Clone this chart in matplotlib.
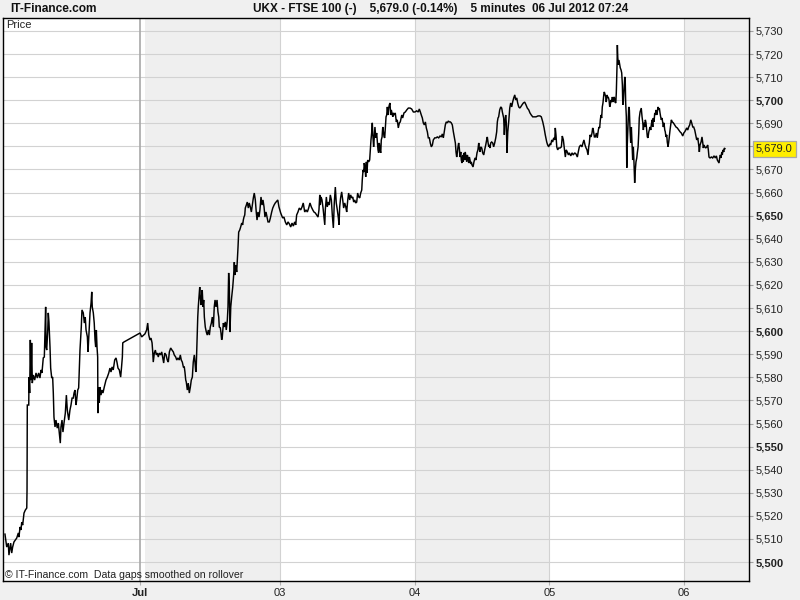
import matplotlib
matplotlib.use('Agg')
import matplotlib.pyplot as plt
import matplotlib.transforms as mtransforms

# ---- data: 5-minute bar index (0 = 02 Jul session open, 102 bars per day) and FTSE 100 price
bars = [
    -106.3, -105.0, -103.8, -103.3, -102.0, -101.2, -100.5, -99.5, -97.4, -96.2,
    -95.7, -94.9, -94.2, -93.6, -92.9, -91.9, -90.9, -89.8, -89.6, -89.4,
    -88.3, -88.1, -87.6, -87.1, -86.6, -86.1, -85.6, -84.9, -83.8, -82.8,
    -81.8, -80.8, -79.8, -79.0, -78.3, -77.3, -76.5, -76.0, -75.5, -75.2,
    -74.7, -73.9, -73.5, -73.0, -72.2, -71.7, -70.9, -70.2, -69.7, -69.2,
    -68.4, -67.7, -66.7, -65.9, -65.2, -64.4, -63.9, -63.1, -62.4, -61.6,
    -60.6, -59.8, -59.1, -58.0, -57.1, -56.3, -55.5, -54.6, -54.0, -53.3,
    -52.5, -52.0, -51.2, -50.5, -49.5, -48.5, -48.0, -47.0, -46.2, -45.5,
    -44.9, -43.9, -43.4, -42.7, -41.9, -41.1, -40.6, -40.2, -39.4, -38.7,
    -38.1, -37.6, -37.1, -36.6, -36.1, -35.9, -35.3, -34.9, -34.3, -33.6,
    -32.8, -32.1, -31.1, -29.8, -28.8, -27.7, -26.8, -26.0, -25.2, -24.3,
    -23.2, -22.2, -21.5, -20.7, -19.7, -18.7, -18.2, -17.4, -17.1, -16.2,
    -4.0, -2.8, -0.3, 1.0, 1.8, 2.6, 3.5, 4.3, 5.1, 5.6,
    6.0, 6.8, 7.6, 8.3, 9.1, 9.8, 10.6, 11.6, 12.4, 13.2,
    13.9, 14.7, 15.7, 16.6, 17.4, 18.2, 19.2, 20.2, 21.2, 21.9,
    23.0, 23.8, 24.7, 25.7, 26.5, 27.2, 28.0, 28.8, 29.5, 30.0,
    30.6, 31.0, 31.8, 32.5, 33.3, 34.1, 34.8, 35.6, 36.3, 37.1,
    37.6, 38.2, 38.6, 39.1, 39.7, 40.1, 40.6, 41.2, 41.6, 42.2,
    42.7, 43.1, 43.7, 44.2, 44.7, 45.4, 46.2, 46.9, 47.7, 48.5,
    49.2, 50.0, 50.7, 51.5, 52.2, 52.8, 53.5, 54.3, 55.0, 55.6,
    56.0, 56.8, 57.3, 57.8, 58.3, 59.1, 59.8, 60.6, 61.3, 62.1,
    62.6, 63.1, 63.6, 64.1, 64.7, 65.4, 66.2, 66.9, 67.4, 67.9,
    68.4, 69.2, 69.7, 70.2, 70.7, 71.5, 72.2, 73.0, 73.7, 74.2,
    74.7, 75.3, 75.7, 76.5, 77.2, 78.0, 78.7, 79.5, 80.3, 81.0,
    81.8, 82.5, 83.3, 84.0, 84.6, 85.3, 86.1, 86.8, 87.6, 88.4,
    89.1, 89.9, 90.6, 91.4, 92.2, 92.9, 93.9, 94.7,
    95.7, 96.5, 97.5, 98.4, 100.3, 101.2, 102.5, 104.0, 105.0, 106.0,
    107.1, 108.1, 109.1, 110.1, 111.1, 112.1, 113.1, 113.9, 114.6, 115.6,
    116.6, 117.7, 118.7, 119.6, 120.7, 121.7, 122.7, 123.7, 124.7, 125.7,
    126.8, 127.7, 128.7, 129.8, 130.8, 131.5, 132.1, 132.5, 133.1, 133.8,
    134.6, 135.3, 135.9, 136.3, 137.1, 137.8, 138.6, 139.3, 140.1, 140.9,
    141.6, 142.4, 143.1, 143.9, 144.6, 145.4, 146.2, 146.7, 147.2, 147.9,
    148.7, 149.5, 150.2, 151.0, 151.8, 152.5, 153.3, 154.0, 154.8, 155.5,
    156.3, 157.1, 157.8, 158.6, 159.3, 160.1, 160.8, 161.6, 162.4, 163.1,
    163.9, 164.3, 164.9, 165.4, 165.8, 166.4, 166.9, 167.4, 167.9, 168.4,
    169.2, 169.9, 170.4, 170.9, 171.4, 171.9, 172.4, 172.9, 173.4, 173.9,
    174.5, 175.2, 175.7, 176.2, 176.7, 177.2, 177.7, 178.3, 178.7, 179.3,
    179.8, 180.2, 180.8, 181.3, 181.8, 182.3, 182.8, 183.3, 183.8, 184.3,
    184.8, 185.3, 185.8, 186.3, 186.8, 187.4, 187.8, 188.6, 189.3, 190.1,
    190.8, 191.6, 192.4,
    193.1, 194.2, 194.9, 195.9, 196.9, 198.0, 199.2, 200.5, 201.7, 203.0,
    204.2, 205.5, 206.7, 207.5, 208.3, 209.0, 209.8, 210.5, 211.3, 212.1,
    212.8, 213.6, 214.3, 215.1, 215.8, 216.6, 217.4, 218.1, 219.2, 220.2,
    221.1, 222.2, 223.2, 224.2, 224.9, 225.7, 226.4, 227.2, 227.9, 228.7,
    229.5, 230.2, 231.0, 231.7, 232.5, 233.3, 234.0, 234.8, 235.3, 235.8,
    236.3, 236.8, 237.3, 237.8, 238.3, 238.9, 239.3, 239.8, 240.4, 240.8,
    241.4, 241.9, 242.3, 242.9, 243.4, 243.9, 244.4, 244.9, 245.4, 245.9,
    246.4, 246.9, 247.4, 248.2, 248.9, 249.7, 250.4, 251.2, 251.9, 252.5,
    252.9, 253.5, 254.0, 254.8, 255.5, 256.3, 257.0, 257.8, 258.5, 259.0,
    259.5, 260.1, 260.5, 261.0, 261.6, 262.3, 263.1, 263.8, 264.6, 265.4,
    266.1, 266.6, 267.1, 267.6, 268.4, 269.2, 269.9, 270.4, 270.9, 271.4,
    271.9, 272.4, 272.9, 273.4, 273.9, 274.5, 275.2, 276.0, 276.7, 277.5,
    278.2, 279.0, 279.8, 280.5, 281.3, 282.0, 282.8, 283.6, 284.3, 285.3,
    286.3, 287.3, 288.3, 289.3, 290.4, 291.3, 292.3, 293.4, 294.4, 295.9,
    297.4, 298.9, 299.9,
    301.0, 302.0, 302.9, 304.0, 304.7, 305.5, 306.3, 307.0, 307.8, 308.5,
    309.3, 310.1, 310.5, 311.0, 311.6, 312.3, 313.1, 314.1, 315.1, 315.8,
    316.6, 317.3, 318.1, 318.8, 319.6, 320.4, 321.1, 322.2, 323.2, 324.1,
    325.2, 326.2, 327.2, 327.9, 328.7, 329.7, 330.7, 331.5, 332.2, 333.0,
    333.8, 334.5, 335.3, 335.8, 336.3, 336.8, 337.6, 338.3, 338.8, 339.3,
    340.1, 340.8, 341.6, 342.3, 343.1, 343.6, 344.1, 344.6, 345.1, 345.6,
    346.1, 346.6, 347.2, 347.6, 348.2, 348.7, 349.1, 349.7, 350.2, 350.6,
    351.2, 351.7, 352.1, 352.7, 353.2, 353.7, 354.2, 354.7, 355.2, 355.7,
    356.3, 356.7, 357.3, 357.5, 357.8, 358.2, 358.7, 359.3, 359.7, 360.3,
    360.8, 361.3, 361.6, 362.0, 362.5, 363.1, 363.5, 363.8, 364.3, 364.6,
    365.0, 365.6, 366.1, 366.6, 367.1, 367.6, 368.1, 368.6, 369.1, 369.6,
    370.1, 370.6, 371.1, 371.6, 372.2, 372.6, 373.2, 373.7, 374.1, 374.7,
    375.2, 375.6, 376.2, 376.7, 377.2, 377.7, 378.2, 378.7, 379.2, 379.7,
    380.2, 380.7, 381.3, 381.7, 382.2, 382.8, 383.2, 383.8, 384.3, 384.7,
    385.3, 385.8, 386.3, 386.8, 387.3, 387.8, 388.3, 388.8, 389.3, 389.8,
    390.3, 390.8, 391.3, 391.9, 392.3, 392.8, 393.4, 393.8, 394.3, 394.9,
    395.3, 395.9, 396.4, 396.8, 397.4, 397.9, 398.4, 399.1, 399.9, 400.9,
    401.9, 402.9, 404.0, 405.0, 405.9, 407.0, 407.8, 408.5, 409.3, 410.0,
    410.8, 411.5, 412.3, 413.1, 413.8, 414.6, 415.3, 416.1, 416.8, 417.6,
    418.4, 419.1, 419.6, 420.1, 420.9, 421.6, 422.2, 422.6, 423.1, 423.7,
    424.4, 425.2, 425.9, 426.4, 426.9, 427.7, 428.7, 429.7, 430.7, 431.7,
    432.5, 433.2, 434.0, 434.5, 435.0, 435.5, 436.0, 436.6, 437.0, 437.5,
    438.1, 438.5, 439.0,
]

prices = [
    5512.1, 5506.5, 5508.2, 5503.0, 5508.2, 5503.9, 5506.5, 5508.7, 5510.4, 5512.6,
    5510.8, 5515.2, 5513.9, 5517.3, 5516.0, 5521.2, 5522.5, 5523.4, 5531.2, 5568.0,
    5568.0, 5580.1, 5573.2, 5596.2, 5578.8, 5594.9, 5577.5, 5581.0, 5578.8, 5581.9,
    5579.7, 5581.9, 5579.7, 5583.2, 5581.9, 5588.4, 5588.8, 5600.5, 5610.5, 5593.1,
    5591.8, 5600.5, 5607.9, 5604.0, 5593.1, 5584.0, 5579.7, 5580.1, 5573.2, 5562.8,
    5558.5, 5561.5, 5558.0, 5560.2, 5555.9, 5551.5, 5558.5, 5561.5, 5556.3, 5560.2,
    5564.5, 5572.3, 5565.8, 5561.5, 5565.8, 5568.0, 5571.0, 5571.0, 5573.2, 5574.5,
    5568.0, 5570.2, 5574.5, 5575.4, 5591.8, 5601.8, 5609.2, 5607.9, 5603.5, 5606.1,
    5600.5, 5597.5, 5591.0, 5599.2, 5607.9, 5612.2, 5617.0, 5610.5, 5607.9, 5603.5,
    5596.2, 5593.1, 5600.5, 5593.1, 5588.8, 5564.5, 5575.8, 5568.9, 5575.8, 5572.3,
    5574.5, 5573.2, 5575.8, 5578.8, 5580.1, 5581.9, 5584.0, 5582.3, 5584.5, 5583.2,
    5587.5, 5588.4, 5586.6, 5584.0, 5583.2, 5580.1, 5583.2, 5588.8, 5594.9, 5595.3,
    5599.2, 5597.5, 5598.8, 5600.5, 5603.5, 5598.3, 5596.2, 5597.0, 5594.9, 5591.0,
    5586.6, 5590.5, 5591.8, 5589.7, 5590.5, 5588.8, 5590.5, 5589.7, 5591.0, 5588.4,
    5586.2, 5590.5, 5589.7, 5587.5, 5586.6, 5591.0, 5592.7, 5591.8, 5591.0, 5589.7,
    5588.8, 5587.5, 5588.4, 5587.5, 5589.7, 5587.5, 5586.6, 5584.5, 5584.5, 5582.3,
    5578.8, 5578.0, 5574.5, 5577.5, 5573.2, 5575.8, 5578.8, 5580.1, 5586.6, 5589.7,
    5586.6, 5582.3, 5585.3, 5594.9, 5606.1, 5610.5, 5614.4, 5619.1, 5614.8, 5611.3,
    5615.7, 5617.8, 5610.5, 5613.5, 5606.1, 5601.8, 5599.6, 5598.3, 5600.5, 5598.3,
    5601.8, 5603.5, 5606.1, 5601.8, 5610.5, 5613.5, 5610.5, 5613.5, 5608.3, 5606.1,
    5601.8, 5601.4, 5599.2, 5596.2, 5597.5, 5603.5, 5601.8, 5604.0, 5600.5, 5604.8,
    5610.5, 5625.2, 5619.1, 5599.6, 5610.5, 5614.8, 5619.1, 5624.3, 5629.9, 5624.3,
    5628.6, 5625.6, 5630.8, 5636.4, 5642.9, 5643.8, 5645.1, 5646.8, 5646.0, 5648.1,
    5649.4, 5650.3, 5653.3, 5654.6, 5655.9, 5653.3, 5655.5, 5653.8, 5651.6, 5654.6,
    5657.7, 5659.8, 5656.8, 5651.6, 5648.1, 5651.6, 5649.4, 5652.5, 5658.1, 5654.6,
    5656.8, 5653.8, 5649.4, 5651.6, 5649.4, 5647.3, 5647.3, 5649.0,
    5651.6, 5653.3, 5654.6, 5655.5, 5656.8, 5653.8, 5651.2, 5649.0, 5649.4, 5647.3,
    5646.0, 5647.3, 5646.4, 5645.1, 5646.8, 5645.5, 5647.3, 5646.0, 5650.3, 5651.6,
    5653.3, 5652.5, 5653.8, 5655.5, 5651.6, 5652.5, 5651.6, 5653.3, 5655.5, 5653.8,
    5652.5, 5651.6, 5651.2, 5650.3, 5649.4, 5652.5, 5659.0, 5654.6, 5658.1, 5656.8,
    5653.3, 5649.4, 5646.0, 5652.5, 5658.1, 5653.8, 5655.9, 5654.6, 5659.0, 5656.8,
    5650.3, 5644.7, 5655.5, 5662.4, 5655.5, 5652.5, 5649.0, 5646.0, 5653.8, 5657.7,
    5660.3, 5656.8, 5653.3, 5655.5, 5653.8, 5651.6, 5656.8, 5659.8, 5656.8, 5659.0,
    5657.7, 5658.1, 5655.9, 5656.8, 5655.5, 5655.9, 5659.8, 5658.1, 5657.7, 5659.8,
    5661.1, 5665.5, 5669.8, 5668.9, 5672.8, 5670.7, 5666.8, 5673.3, 5668.5, 5674.1,
    5673.3, 5674.1, 5678.5, 5682.8, 5685.8, 5690.2, 5684.1, 5679.8, 5684.1, 5688.4,
    5683.7, 5685.8, 5681.9, 5678.5, 5677.2, 5681.5, 5678.5, 5677.2, 5682.8, 5684.1,
    5688.4, 5687.1, 5684.1, 5683.7, 5688.4, 5692.8, 5693.6, 5697.1, 5693.6, 5696.6,
    5698.0, 5698.8, 5693.6, 5695.8, 5694.5, 5692.8, 5694.5, 5693.6, 5694.5, 5690.6,
    5691.5, 5688.0, 5690.2,
    5690.6, 5693.6, 5692.3, 5694.5, 5694.9, 5695.8, 5696.6, 5696.6, 5696.2, 5694.9,
    5694.9, 5695.4, 5694.9, 5696.2, 5694.9, 5693.6, 5692.3, 5690.2, 5689.3, 5690.6,
    5688.0, 5686.3, 5683.7, 5683.7, 5681.5, 5679.8, 5680.6, 5682.8, 5683.7, 5683.7,
    5684.1, 5683.7, 5684.5, 5684.1, 5685.4, 5683.7, 5686.3, 5689.3, 5690.6, 5690.2,
    5691.0, 5690.6, 5690.6, 5690.2, 5689.3, 5686.3, 5684.1, 5681.5, 5677.6, 5675.4,
    5677.2, 5679.8, 5681.5, 5679.3, 5675.4, 5677.6, 5674.1, 5672.8, 5676.3, 5673.3,
    5677.2, 5674.1, 5677.6, 5675.4, 5673.3, 5676.3, 5675.0, 5672.8, 5675.4, 5674.1,
    5672.4, 5673.3, 5672.0, 5671.1, 5673.3, 5675.0, 5674.1, 5677.2, 5678.5, 5681.5,
    5679.3, 5677.6, 5679.8, 5679.3, 5677.2, 5676.3, 5678.5, 5680.6, 5682.8, 5684.1,
    5681.9, 5679.8, 5680.6, 5679.3, 5681.5, 5681.9, 5681.5, 5679.8, 5681.5, 5683.7,
    5686.3, 5690.6, 5692.3, 5692.8, 5695.8, 5697.1, 5696.6, 5694.9, 5693.6, 5692.3,
    5685.0, 5690.6, 5693.6, 5690.2, 5677.2, 5686.3, 5690.6, 5696.6, 5698.8, 5697.1,
    5699.2, 5701.0, 5702.3, 5700.1, 5701.0, 5698.8, 5697.1, 5696.6, 5697.1, 5698.0,
    5698.8, 5699.2, 5698.0, 5696.6, 5695.8, 5694.5, 5693.6, 5692.8, 5692.8, 5692.8,
    5693.2, 5693.2, 5692.8,
    5690.6, 5688.0, 5685.0, 5681.9, 5680.6, 5679.8, 5681.1, 5680.6, 5682.8, 5681.9,
    5683.7, 5682.8, 5688.0, 5685.0, 5679.8, 5678.5, 5679.3, 5679.3, 5679.8, 5684.5,
    5682.8, 5679.3, 5675.4, 5678.5, 5677.6, 5676.3, 5677.2, 5675.9, 5677.2, 5676.3,
    5677.2, 5676.7, 5675.4, 5677.6, 5679.8, 5680.6, 5679.8, 5681.5, 5682.8, 5680.6,
    5679.3, 5678.5, 5676.3, 5679.8, 5681.5, 5685.0, 5684.1, 5685.8, 5688.0, 5687.1,
    5684.1, 5684.1, 5685.8, 5683.7, 5687.1, 5688.4, 5688.0, 5691.5, 5693.6, 5692.3,
    5697.1, 5698.8, 5702.3, 5703.6, 5702.3, 5701.4, 5699.2, 5702.3, 5701.0, 5701.4,
    5700.1, 5697.1, 5698.0, 5700.1, 5699.2, 5701.4, 5699.2, 5701.0, 5701.4, 5699.2,
    5698.8, 5703.1, 5716.1, 5723.9, 5718.7, 5715.3, 5717.4, 5715.3, 5714.0, 5713.1,
    5711.8, 5706.6, 5698.0, 5699.2, 5704.4, 5710.1, 5707.5, 5698.8, 5692.8, 5670.7,
    5680.6, 5690.2, 5697.1, 5695.8, 5687.1, 5681.5, 5688.4, 5681.5, 5674.1, 5679.8,
    5672.8, 5664.2, 5669.8, 5673.3, 5675.0, 5677.2, 5679.8, 5685.8, 5692.3, 5694.9,
    5695.8, 5696.6, 5692.8, 5690.6, 5687.1, 5690.2, 5688.4, 5691.5, 5690.2, 5687.1,
    5684.1, 5683.7, 5686.3, 5687.1, 5688.4, 5687.1, 5689.3, 5691.5, 5688.4, 5692.3,
    5690.6, 5694.5, 5693.6, 5695.8, 5693.6, 5694.9, 5697.1, 5695.8, 5696.6, 5694.5,
    5692.8, 5691.5, 5692.3, 5690.2, 5688.4, 5690.2, 5687.1, 5686.3, 5684.1, 5685.0,
    5681.9, 5679.8, 5681.9, 5684.1, 5687.1, 5689.3, 5691.5, 5690.6, 5690.2, 5689.3,
    5688.4, 5688.0, 5687.1, 5686.3, 5685.8, 5684.5, 5685.8, 5686.3, 5687.1, 5688.0,
    5687.1, 5688.4, 5689.3, 5691.5, 5690.2, 5688.4, 5688.4, 5687.1, 5685.0, 5682.8,
    5683.7, 5680.6, 5677.6, 5680.6, 5681.9, 5684.1, 5681.5, 5679.3, 5680.6, 5679.8,
    5679.3, 5679.8, 5680.6, 5678.5, 5675.4, 5675.0, 5675.4, 5675.0, 5675.9, 5675.0,
    5675.9, 5674.1, 5673.3, 5672.8, 5675.0, 5676.3, 5675.0, 5677.6, 5676.3, 5678.5,
    5677.6, 5679.3, 5679.0,
]

day_ticks = [-4.3, 102, 204, 306, 408]
day_labels = ['Jul', '03', '04', '05', '06']
shaded_days = [(0, 102), (204, 306), (408, 470)]
price_ticks = list(range(5500, 5731, 10))
last_price = 5679.0
last_label = '5,679.0'
title_left = 'IT-Finance.com'
title_main = 'UKX - FTSE 100 (-)    5,679.0 (-0.14%)    5 minutes  06 Jul 2012 07:24'
footer = '\u00a9 IT-Finance.com  Data gaps smoothed on rollover'

FONT = 'Liberation Sans'
plt.rcParams['font.family'] = [FONT, 'DejaVu Sans']

W, H = 800, 600
fig = plt.figure(figsize=(W / 100, H / 100), dpi=100, facecolor='#f0f0f0')
ax = fig.add_axes([3 / W, 19 / H, 746 / W, 563 / H])
ax.set_facecolor('white')
ax.set_xlim(-107.8, 457.2)
ax.set_ylim(5491.8, 5735.6)

for a, b in shaded_days:
    ax.axvspan(a, b, color='#efefef', lw=0, zorder=0)
for v in price_ticks:
    ax.axhline(v, color='#d2d2d2', lw=0.8, zorder=1)
for x in day_ticks[1:]:
    ax.axvline(x, color='#d2d2d2', lw=0.8, zorder=1)
ax.axvline(day_ticks[0], color='#a8a8a8', lw=1.2, zorder=1)

ax.plot(bars, prices, color='black', lw=1.05, zorder=3, solid_joinstyle='miter')

for s in ax.spines.values():
    s.set_color('black')
    s.set_linewidth(1.0)

# y axis on the right
ax.yaxis.tick_right()
ax.set_yticks(price_ticks)
ylabels = ['' if v == 5680 else f'{v:,}' for v in price_ticks]
ax.set_yticklabels(ylabels)
for v, t in zip(price_ticks, ax.get_yticklabels()):
    if v % 50 == 0:
        t.set_fontweight('bold')
ax.tick_params(axis='y', direction='out', length=3, width=0.8, color='#a0a0a0',
               labelsize=8, pad=1.5, labelcolor='#222222')

# x axis
ax.set_xticks(day_ticks)
ax.set_xticklabels(day_labels)
for t in ax.get_xticklabels():
    if t.get_text() == 'Jul':
        t.set_fontweight('bold')
ax.tick_params(axis='x', direction='out', length=3, width=0.8, color='#b0b0b0',
               labelsize=8, pad=2, labelcolor='#222222')

# last price highlight
trans = mtransforms.blended_transform_factory(ax.transAxes, ax.transData)
ax.annotate(last_label, xy=(1.0, last_price), xycoords=trans,
            xytext=(5.0, 0), textcoords='offset points', ha='left', va='center',
            fontsize=8, color='#222222', zorder=10, annotation_clip=False,
            bbox=dict(boxstyle='square,pad=0.26', fc='#ffee00', ec='#a8a8a8', lw=0.9))

# texts
ax.text(3 / 746, 1 - 7 / 563, 'Price', transform=ax.transAxes, ha='left', va='center',
        fontsize=8, color='#222222')
ax.text(2 / 746, 6 / 563, footer, transform=ax.transAxes, ha='left', va='center',
        fontsize=7.6, color='#222222')
fig.text(10 / W, 1 - 9 / H, title_left, ha='left', va='center', fontsize=8.6,
         fontweight='bold', color='#111111')
fig.text(253 / W, 1 - 9 / H, title_main, ha='left', va='center', fontsize=8.5,
         fontweight='bold', color='#111111')

fig.savefig('out.png', dpi=100, facecolor=fig.get_facecolor())
